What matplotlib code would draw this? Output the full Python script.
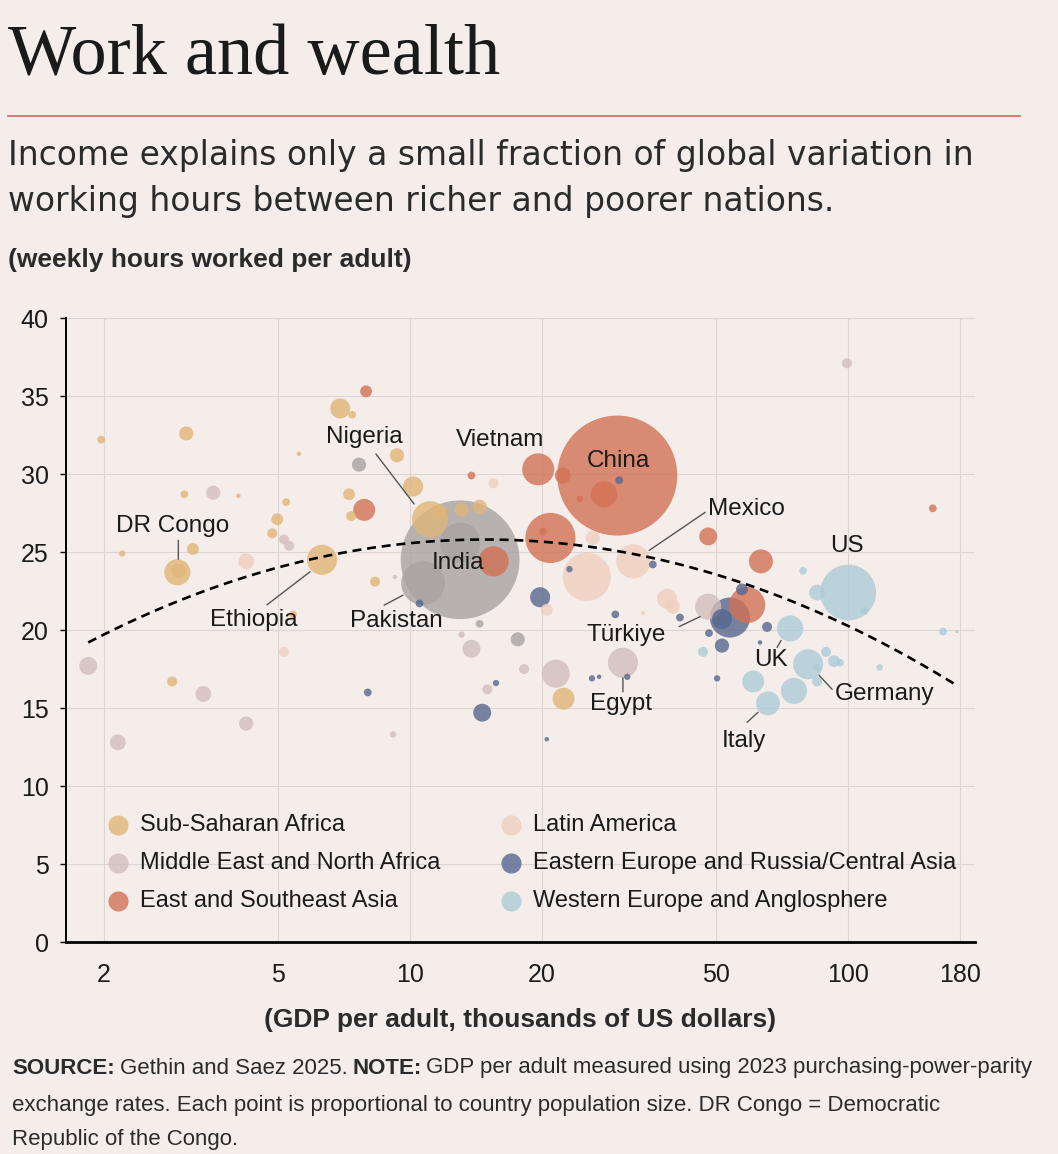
import matplotlib.pyplot as plt
import numpy as np
from matplotlib.lines import Line2D
from matplotlib.text import OffsetFrom

W, H = 1058, 1154
BG = '#F5EDEA'
NARROW = ['Liberation Sans Narrow', 'Liberation Sans', 'DejaVu Sans']
INK = '#1a1a1a'

# GDP per adult (thousand $, PPP), weekly hours per adult, population (millions)
ssa_gdp = [1.97, 3.08, 6.92, 7.37, 5.57, 9.33, 3.05, 4.05, 7.25, 7.33, 5.21, 4.97, 4.84, 3.19,
           2.20, 2.94, 2.96, 6.29, 8.31, 5.40, 2.86, 10.15, 11.1, 11.7, 13.1, 14.4, 22.4]
ssa_hours = [32.2, 32.6, 34.2, 33.8, 31.3, 31.2, 28.7, 28.6, 28.7, 27.3, 28.2, 27.1, 26.2, 25.2,
             24.9, 23.7, 23.8, 24.5, 23.1, 21.0, 16.7, 29.2, 27.1, 27.6, 27.7, 27.9, 15.6]
ssa_pop = [6, 20, 40, 6, 2, 20, 6, 2, 14, 10, 6, 14, 10, 14,
           4, 68, 20, 90, 10, 6, 10, 40, 130, 20, 20, 20, 48]

mena_gdp = [3.55, 5.15, 5.29, 9.23, 1.84, 3.37, 4.22, 2.15, 9.14, 13.1, 13.8, 18.2, 21.5, 15.0,
            30.6, 47.9, 99.4]
mena_hours = [28.8, 25.8, 25.4, 23.4, 17.7, 15.9, 14.0, 12.8, 13.3, 19.7, 18.8, 17.5, 17.2, 16.2,
              17.9, 21.5, 37.1]
mena_pop = [20, 10, 10, 2, 32, 25, 20, 25, 4, 4, 32, 10, 78, 10, 90, 68, 10]

asia_gdp = [7.93, 7.85, 13.8, 19.6, 29.7, 22.3, 27.7, 24.4, 20.9, 20.1, 15.5, 47.9, 63.2, 58.8, 156]
asia_hours = [35.3, 27.7, 29.9, 30.3, 29.9, 29.9, 28.7, 28.4, 25.9, 26.3, 24.4, 26.0, 24.4, 21.6, 27.8]
asia_pop = [14, 48, 6, 102, 1430, 25, 68, 4, 250, 6, 90, 32, 57, 130, 6]

latam_gdp = [4.22, 5.15, 15.5, 26.1, 25.3, 32.3, 20.5, 38.6, 39.8, 34.0]
latam_hours = [24.4, 18.6, 29.4, 25.9, 23.4, 24.4, 21.3, 22.0, 21.5, 21.1]
latam_pop = [25, 10, 10, 20, 230, 115, 14, 40, 20, 2]

eeca_gdp = [8.0, 10.5, 19.8, 23.1, 30.0, 35.8, 41.3, 29.4, 53.7, 51.5, 57.2, 65.3, 51.5, 48.1,
            62.9, 50.2, 14.6, 15.7, 20.5, 26.0, 27.0, 31.3]
eeca_hours = [16.0, 21.7, 22.1, 23.9, 29.6, 24.2, 20.8, 21.0, 20.8, 20.7, 22.6, 20.2, 19.0, 19.8,
              19.2, 16.9, 14.7, 16.6, 13.0, 16.9, 17.0, 17.0]
eeca_pop = [6, 6, 40, 4, 6, 6, 6, 6, 160, 40, 14, 10, 20, 6, 2, 4, 32, 4, 2, 4, 2, 4]

west_gdp = [78.9, 100, 84.9, 108.7, 73.7, 46.6, 81.0, 89.0, 92.8, 95.8, 84.9, 84.9, 60.7, 75.2,
            65.6, 118, 164.7, 177]
west_hours = [23.8, 22.4, 22.4, 21.2, 20.1, 18.6, 17.8, 18.6, 18.0, 17.9, 17.6, 16.7, 16.7, 16.1,
              15.3, 17.6, 19.9, 19.9]
west_pop = [6, 310, 25, 6, 68, 10, 90, 10, 14, 6, 6, 10, 48, 68, 57, 4, 6, 1]

sasia_gdp = [13.0, 13.0, 10.7, 7.64, 14.4, 17.6]
sasia_hours = [24.5, 25.6, 23.0, 30.6, 20.4, 19.4]
sasia_pop = [1400, 160, 190, 20, 6, 20]

# quadratic fit in log GDP
fit_peak_gdp = 14.8
fit_peak_hours = 25.8
fit_curvature = 8.05
fit_range = (1.84, 174)

x_ticks = [2, 5, 10, 20, 50, 100, 180]
y_ticks = [0, 5, 10, 15, 20, 25, 30, 35, 40]

regions = [
    ('Sub-Saharan Africa', ssa_gdp, ssa_hours, ssa_pop, '#E0B579'),
    ('Middle East and North Africa', mena_gdp, mena_hours, mena_pop, '#D2BEBC'),
    ('East and Southeast Asia', asia_gdp, asia_hours, asia_pop, '#D27154'),
    ('Latin America', latam_gdp, latam_hours, latam_pop, '#EFCEBD'),
    ('Eastern Europe and Russia/Central Asia', eeca_gdp, eeca_hours, eeca_pop, '#56678E'),
    ('Western Europe and Anglosphere', west_gdp, west_hours, west_pop, '#AECCD7'),
]
sasia_color = '#A8A3A2'

SIZE_PER_M = 5.22   # marker area (pt^2) per million people


def fx(px):
    return px / W


def fy(py):
    return 1 - py / H


fig = plt.figure(figsize=(W / 100, H / 100), dpi=100, facecolor=BG)
ax = fig.add_axes([fx(66), fy(942), 909 / W, 624 / H], facecolor=BG)

# all bubbles together, biggest first so small ones sit on top
xs, ys, ss, cs = [], [], [], []
for name, g, h, p, c in regions:
    xs += g; ys += h; ss += p; cs += [c] * len(g)
xs += sasia_gdp; ys += sasia_hours; ss += sasia_pop; cs += [sasia_color] * len(sasia_gdp)
order = np.argsort(ss)[::-1]
ax.scatter(np.array(xs)[order], np.array(ys)[order], s=np.array(ss)[order] * SIZE_PER_M,
           c=np.array(cs)[order], alpha=0.8, linewidths=0, zorder=3)

# fitted curve
u = np.linspace(np.log10(fit_range[0]), np.log10(fit_range[1]), 200)
fit_y = fit_peak_hours - fit_curvature * (u - np.log10(fit_peak_gdp)) ** 2
ax.plot(10 ** u, fit_y, color='black', lw=1.9, ls=(0, (3.4, 2.2)), zorder=4)

ax.set_xscale('log')
ax.set_xlim(1.637, 194.8)
ax.set_ylim(0, 40)
ax.set_xticks(x_ticks)
ax.set_xticklabels([str(t) for t in x_ticks])
ax.minorticks_off()
ax.set_yticks(y_ticks)
ax.grid(True, color='#DDD5D2', lw=0.8, zorder=0)
ax.set_axisbelow(True)
for s in ['top', 'right']:
    ax.spines[s].set_visible(False)
ax.spines['left'].set_linewidth(1.4)
ax.spines['bottom'].set_linewidth(2)
ax.tick_params(axis='y', length=4.5, width=1, pad=8, labelsize=18, labelcolor=INK)
ax.tick_params(axis='x', length=0, pad=15, labelsize=18, labelcolor=INK)
for lab in ax.get_xticklabels() + ax.get_yticklabels():
    lab.set_family(NARROW)

# country labels: (name, gdp, hours, text offset pt, ha, leader start/end offsets pt)
labels = [
    ('Nigeria', ssa_gdp[22], ssa_hours[22], (-47, 59), 'center', ((-39, 47), (-11.5, 11))),
    ('DR Congo', ssa_gdp[15], ssa_hours[15], (-3.6, 33), 'center', ((0.7, 23), (0.7, 9.4))),
    ('Ethiopia', ssa_gdp[17], ssa_hours[17], (-49, -43), 'center', ((-39.6, -32.4), (-8.6, -8.6))),
    ('Pakistan', sasia_gdp[2], sasia_hours[2], (-19.4, -27.4), 'center', ((-28, -15.8), (-14.4, -8.6))),
    ('India', sasia_gdp[0], sasia_hours[0], (-1.4, -2.2), 'center', None),
    ('China', asia_gdp[4], asia_hours[4], (0.7, 10.8), 'center', None),
    ('Vietnam', asia_gdp[3], asia_hours[3], (-27.4, 21), 'center', None),
    ('Mexico', latam_gdp[5], latam_hours[5], (54, 37.4), 'left', ((51.8, 35.3), (11.5, 7.9))),
    ('US', west_gdp[1], west_hours[1], (-0.7, 33.8), 'center', None),
    ('Türkiye', mena_gdp[15], mena_hours[15], (-59, -20.2), 'center', ((-20.9, -14.4), (-5.8, -7.2))),
    ('Egypt', mena_gdp[14], mena_hours[14], (-1.4, -29.5), 'center', ((0, -20.9), (0, -10.8))),
    ('UK', west_gdp[4], west_hours[4], (-13.7, -23), 'center', ((-9.4, -13.7), (-6.5, -8.6))),
    ('Germany', west_gdp[6], west_hours[6], (19.4, -21.6), 'left', ((17.3, -18), (7.9, -7.9))),
    ('Italy', west_gdp[14], west_hours[14], (-17.3, -27.4), 'center', ((-15.1, -13.7), (-7.2, -6.5))),
]
for name, gx, gy, toff, ha, lead in labels:
    ax.annotate(name, (gx, gy), xytext=toff, textcoords='offset points', ha=ha, va='center',
                fontsize=17.5, family=NARROW, color=INK, zorder=6)
    if lead:
        ref = OffsetFrom(ax.transData, (gx, gy))
        ax.annotate('', xy=lead[1], xycoords=ref, xytext=lead[0], textcoords=ref,
                    arrowprops=dict(arrowstyle='-', color='#555555', lw=1, shrinkA=0, shrinkB=0),
                    zorder=5)

# legend drawn by hand
leg_x = [0.057, 0.4895]
leg_y = [0.1875, 0.127, 0.066]
for i, (name, g, h, p, c) in enumerate(regions):
    lx, ly = leg_x[i // 3], leg_y[i % 3]
    ax.scatter([lx], [ly], s=210, c=c, alpha=0.8, linewidths=0, transform=ax.transAxes,
               clip_on=False, zorder=6)
    ax.text(lx + 0.0245, ly, name, transform=ax.transAxes, va='center', ha='left',
            fontsize=17, family=NARROW, color=INK, zorder=6)

# header
fig.text(fx(8), fy(75), 'Work and wealth', family='Liberation Serif', size=52,
         va='baseline', color=INK)
fig.add_artist(Line2D([fx(8), fx(1020)], [fy(116), fy(116)], color='#D8706A', lw=1.3))
fig.text(fx(8), fy(155), 'Income explains only a small fraction of global variation in',
         family='DejaVu Sans', size=23.7, va='center', color='#2b2b2b')
fig.text(fx(8), fy(201), 'working hours between richer and poorer nations.',
         family='DejaVu Sans', size=23.7, va='center', color='#2b2b2b')
fig.text(fx(8), fy(260), '(weekly hours worked per adult)', family='Liberation Sans',
         weight='bold', size=19, va='center', color='#2b2b2b')
fig.text(fx(520), fy(1020), '(GDP per adult, thousands of US dollars)', family='Liberation Sans',
         weight='bold', size=19, va='center', ha='center', color='#2b2b2b')

# footer, bold keywords chained to the regular text
foot_kw = dict(family=NARROW, size=16, color='#2b2b2b')
t = fig.text(fx(12), fy(1068), 'SOURCE:', weight='bold', va='center', **foot_kw)
for piece, bold in [('Gethin and Saez 2025.', False), ('NOTE:', True),
                    ('GDP per adult measured using 2023 purchasing-power-parity', False)]:
    t = ax.annotate(piece, xy=(1, 0), xycoords=t, xytext=(3.5, 0), textcoords='offset points',
                    va='bottom', ha='left', weight='bold' if bold else 'normal',
                    annotation_clip=False, **foot_kw)
fig.text(fx(12), fy(1106), 'exchange rates. Each point is proportional to country population size. '
         'DR Congo = Democratic', va='center', **foot_kw)
fig.text(fx(12), fy(1140), 'Republic of the Congo.', va='center', **foot_kw)

fig.savefig('out.png', dpi=100, facecolor=BG)
